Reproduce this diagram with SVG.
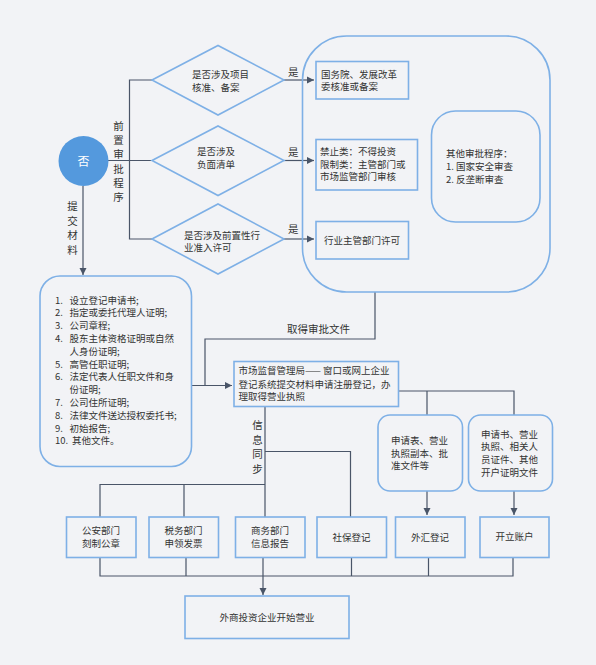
<svg xmlns="http://www.w3.org/2000/svg" width="596" height="665" viewBox="0 0 596 665">
<defs>
<marker id="arr" markerWidth="8" markerHeight="8" refX="7" refY="4" orient="auto" markerUnits="userSpaceOnUse">
<path d="M0,0.5 L7,4 L0,7.5 Z" fill="#4a5568"/>
</marker>
<style>
text{font-family:"Noto Sans CJK SC","Noto Sans",sans-serif;fill:#333;font-size:9.5px}
.box{fill:none;stroke:#7eb0e6;stroke-width:1.6}
.ln{fill:none;stroke:#4a5568;stroke-width:1.2}
.lbl{font-size:10.5px}
.m{text-anchor:middle}
</style>
</defs>
<rect width="596" height="665" fill="#f2f3f6"/>

<g id="connectors">
<path class="ln" d="M108,160.5 H152"/>
<path class="ln" d="M152,80 H129.5 V239 H152"/>
<path class="ln" d="M284,80 H314" marker-end="url(#arr)"/>
<path class="ln" d="M284,160.5 H314" marker-end="url(#arr)"/>
<path class="ln" d="M284,239 H314" marker-end="url(#arr)"/>
<path class="ln" d="M83,186 V275" marker-end="url(#arr)"/>
<path class="ln" d="M375,292 V339 H205 V385.5"/>
<path class="ln" d="M192,385.5 H232" marker-end="url(#arr)"/>
<path class="ln" d="M398,391 H514 V415 M427,391 V415"/>
<path class="ln" d="M427,491 V515" marker-end="url(#arr)"/>
<path class="ln" d="M514,491 V515" marker-end="url(#arr)"/>
<path class="ln" d="M265,406 V517 M265,451.5 H350.5 V517 M265,484.5 H100 V517 M184,484.5 V517"/>
<path class="ln" d="M100,557 V576 H513 V557 M186,557 V576 M351.5,557 V576 M428.5,557 V576"/>
<path class="ln" d="M263,557 V595" marker-end="url(#arr)"/>
<text class="lbl" x="288" y="75.5">是</text>
<text class="lbl" x="288" y="155.5">是</text>
<text class="lbl" x="288" y="233">是</text>
<text class="lbl m" x="318.5" y="333">取得审批文件</text>
<g class="lbl m">
<text class="lbl m" x="118.5" y="130">前</text>
<text class="lbl m" x="118.5" y="144.2">置</text>
<text class="lbl m" x="118.5" y="158.4">审</text>
<text class="lbl m" x="118.5" y="172.6">批</text>
<text class="lbl m" x="118.5" y="186.8">程</text>
<text class="lbl m" x="118.5" y="201">序</text>
<text class="lbl m" x="72.5" y="210">提</text>
<text class="lbl m" x="72.5" y="224.5">交</text>
<text class="lbl m" x="72.5" y="239">材</text>
<text class="lbl m" x="72.5" y="253.5">料</text>
<text class="lbl m" x="257.5" y="429">信</text>
<text class="lbl m" x="257.5" y="443.5">息</text>
<text class="lbl m" x="257.5" y="458">同</text>
<text class="lbl m" x="257.5" y="472.5">步</text>
</g>
</g>

<g id="start">
<circle cx="83.5" cy="161" r="25" fill="#5499dd"/>
<text x="83.5" y="165.5" class="m" style="fill:#fff;font-size:12px">否</text>
</g>

<g id="d1">
<polygon class="box" points="152,80 218,45.5 284,80 218,115"/>
<text x="192" y="77.5">是否涉及项目</text>
<text x="192" y="91">核准、备案</text>
</g>
<g id="d2">
<polygon class="box" points="152,160.5 218,126 284,160.5 218,195.5"/>
<text x="197" y="154.5">是否涉及</text>
<text x="197" y="167.5">负面清单</text>
</g>
<g id="d3">
<polygon class="box" points="152,239 218,204 284,239 218,274"/>
<text x="184" y="238.5">是否涉及前置性行</text>
<text x="184" y="251">业准入许可</text>
</g>

<g id="container">
<rect class="box" x="302.5" y="36" width="247.5" height="256" rx="44"/>
</g>
<g id="b1">
<rect class="box" x="316" y="61.5" width="92.5" height="37.5"/>
<text x="321" y="77.5">国务院、发展改革</text>
<text x="321" y="90">委核准或备案</text>
</g>
<g id="b2">
<rect class="box" x="316" y="139.5" width="101.5" height="50.5"/>
<text x="320" y="155">禁止类：不得投资</text>
<text x="320" y="167.5">限制类：主管部门或</text>
<text x="320" y="180">市场监管部门审核</text>
</g>
<g id="b3">
<rect class="box" x="316" y="221.5" width="92.5" height="37.5"/>
<text x="362" y="243.5" class="m">行业主管部门许可</text>
</g>
<g id="other">
<rect class="box" x="431.5" y="111" width="108.5" height="111" rx="24"/>
<text x="446" y="157">其他审批程序：</text>
<text x="446" y="169.5">1. 国家安全审查</text>
<text x="446" y="182.5">2. 反垄断审查</text>
</g>

<g id="materials">
<rect class="box" x="40" y="276" width="151.5" height="190.5" rx="20"/>
<text x="55" y="303.5">1.</text><text x="69.5" y="303.5">设立登记申请书;</text>
<text x="55" y="316.3">2.</text><text x="69.5" y="316.3">指定或委托代理人证明;</text>
<text x="55" y="329.1">3.</text><text x="69.5" y="329.1">公司章程;</text>
<text x="55" y="341.9">4.</text><text x="69.5" y="341.9">股东主体资格证明或自然</text>
<text x="69.5" y="354.7">人身份证明;</text>
<text x="55" y="367.5">5.</text><text x="69.5" y="367.5">高管任职证明;</text>
<text x="55" y="380.3">6.</text><text x="69.5" y="380.3">法定代表人任职文件和身</text>
<text x="69.5" y="393.1">份证明;</text>
<text x="55" y="405.9">7.</text><text x="69.5" y="405.9">公司住所证明;</text>
<text x="55" y="418.7">8.</text><text x="69.5" y="418.7">法律文件送达授权委托书;</text>
<text x="55" y="431.5">9.</text><text x="69.5" y="431.5">初始报告;</text>
<text x="55" y="444.3">10.</text><text x="72" y="444.3">其他文件。</text>
</g>

<g id="market">
<rect class="box" x="234" y="361.5" width="164.5" height="45"/>
<text x="238.5" y="373.5">市场监督管理局—— 窗口或网上企业</text>
<text x="238.5" y="387.5">登记系统提交材料申请注册登记，办</text>
<text x="238.5" y="400">理取得营业执照</text>
</g>

<g id="docA">
<rect class="box" x="378" y="415" width="84.5" height="76" rx="12"/>
<text x="391" y="444">申请表、营业</text>
<text x="391" y="456.5">执照副本、批</text>
<text x="391" y="469">准文件等</text>
</g>
<g id="docB">
<rect class="box" x="468.5" y="415" width="84" height="76" rx="12"/>
<text x="481" y="437.5">申请书、营业</text>
<text x="481" y="450">执照、相关人</text>
<text x="481" y="462.5">员证件、其他</text>
<text x="481" y="475.5">开户证明文件</text>
</g>

<g id="police">
<rect class="box" x="66.5" y="517" width="69.5" height="40.5"/>
<text x="101" y="533.5" class="m">公安部门</text>
<text x="101" y="546.5" class="m">刻制公章</text>
</g>
<g id="tax">
<rect class="box" x="149" y="517" width="69.5" height="40.5"/>
<text x="183.5" y="533.5" class="m">税务部门</text>
<text x="183.5" y="546.5" class="m">申领发票</text>
</g>
<g id="commerce">
<rect class="box" x="235.5" y="517" width="69.5" height="40.5"/>
<text x="270" y="533.5" class="m">商务部门</text>
<text x="270" y="546.5" class="m">信息报告</text>
</g>
<g id="social">
<rect class="box" x="317" y="517" width="69.5" height="40.5"/>
<text x="351.5" y="541" class="m">社保登记</text>
</g>
<g id="forex">
<rect class="box" x="395.5" y="517" width="69.5" height="40.5"/>
<text x="430" y="541" class="m">外汇登记</text>
</g>
<g id="account">
<rect class="box" x="480" y="517" width="69" height="40.5"/>
<text x="514.5" y="540" class="m">开立账户</text>
</g>

<g id="final">
<rect class="box" x="185" y="596" width="164" height="42.5"/>
<text x="267" y="620.5" class="m">外商投资企业开始营业</text>
</g>
</svg>
